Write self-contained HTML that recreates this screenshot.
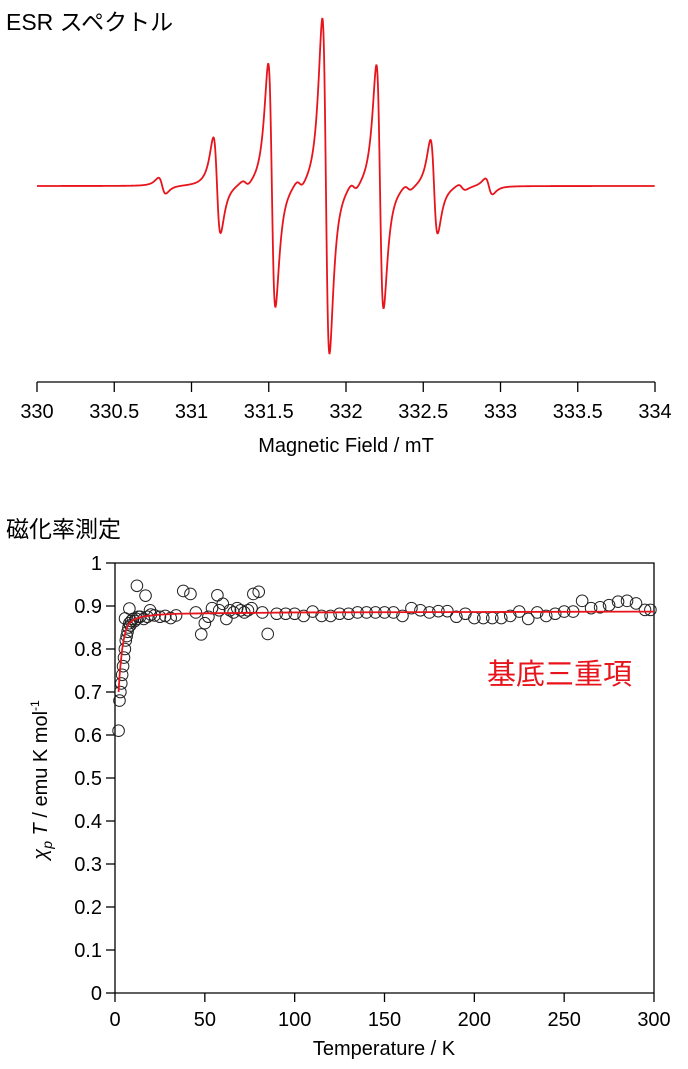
<!DOCTYPE html>
<html><head><meta charset="utf-8">
<style>
html,body{margin:0;padding:0;background:#fff;}
body{width:688px;height:1069px;overflow:hidden;font-family:"Liberation Sans","Noto Sans CJK JP",sans-serif;}
svg{position:absolute;left:0;top:0;}
</style></head>
<body>
<svg id="s" width="688" height="1069" font-family="Liberation Sans, Noto Sans CJK JP, sans-serif">
<text x="6" y="30" font-size="23" fill="#000">ESR スペクトル</text>
<text x="6" y="537" font-size="23" fill="#000">磁化率測定</text>
<g id="esr"></g>
<g id="chi"></g>
</svg>
<script>
// ESR data: line centers (mT), amplitudes (relative peak height, px-scale units)
const esrCenters = [330.81, 331.165, 331.35, 331.52, 331.7, 331.87, 332.05, 332.22, 332.4, 332.57, 332.75, 332.925];
const esrAmps    = [8, 48, 3, 122, 4, 168, 4, 122, 3, 47, 3, 8];
const esrTicks = [330, 330.5, 331, 331.5, 332, 332.5, 333, 333.5, 334];
const esrTickLabels = ["330","330.5","331","331.5","332","332.5","333","333.5","334"];

// Susceptibility data
const chiT = [2,2.5,3,3.5,4,4.5,5,5.5,6,6.5,7,7.5,8,8.5,9,10,11,12,13,14,16,18,20,5.6,8,12.2,17,19.5,22,25,28,31,34,38,42,45,48,50,52,54,57,58,60,62,64,66,68,70,72,74,76,77,80,82,85,90,95,100,105,110,115,120,125,130,135,140,145,150,155,160,165,170,175,180,185,190,195,200,205,210,215,220,225,230,235,240,245,250,255,260,265,270,275,280,285,290,295,298];
const chiV = [0.61,0.68,0.70,0.72,0.74,0.76,0.78,0.80,0.82,0.83,0.84,0.85,0.86,0.855,0.865,0.87,0.865,0.87,0.875,0.875,0.87,0.875,0.88,0.871,0.894,0.947,0.924,0.89,0.878,0.875,0.877,0.872,0.878,0.935,0.928,0.885,0.834,0.86,0.875,0.895,0.925,0.89,0.905,0.87,0.89,0.885,0.895,0.89,0.885,0.89,0.895,0.928,0.933,0.885,0.835,0.882,0.882,0.882,0.877,0.887,0.877,0.877,0.882,0.882,0.885,0.885,0.885,0.885,0.885,0.877,0.895,0.89,0.885,0.888,0.888,0.875,0.882,0.872,0.872,0.872,0.872,0.877,0.887,0.87,0.885,0.877,0.882,0.887,0.887,0.912,0.895,0.897,0.902,0.91,0.912,0.906,0.891,0.891];
const fitT = [2,2.5,3,4,5,6,7,8,10,12,15,20,25,35,50,100,200,300];
const fitV = [0.70,0.735,0.76,0.80,0.825,0.842,0.853,0.86,0.867,0.871,0.875,0.878,0.88,0.882,0.883,0.885,0.886,0.887];
const chiYTicks = [0,0.1,0.2,0.3,0.4,0.5,0.6,0.7,0.8,0.9,1];
const chiYLabels = ["0","0.1","0.2","0.3","0.4","0.5","0.6","0.7","0.8","0.9","1"];
const chiXTicks = [0,50,100,150,200,250,300];
const chiXLabels = ["0","50","100","150","200","250","300"];

const NS='http://www.w3.org/2000/svg';
function mk(tag, attrs, parent){const e=document.createElementNS(NS,tag);for(const k in attrs)e.setAttribute(k,attrs[k]);parent.appendChild(e);return e;}

// ---- ESR ----
const esr=document.getElementById('esr');
const ex=b=>37+(b-330)/4*618;
const base=186, G=0.04;
function esrSignal(b){let s=0;for(let i=0;i<esrCenters.length;i++){const u=(b-esrCenters[i])/G;s+=esrAmps[i]*(-u/Math.pow(1+u*u,2))/0.325;}return s;}
let d='';
for(let b=330.0;b<=334.0;b+=0.002){d+=(d?'L':'M')+ex(b).toFixed(2)+','+(base-esrSignal(b)).toFixed(2);}
const sp=mk('path',{d:d,fill:'none',stroke:'#e8141c','stroke-width':1.8},esr);


const eax=mk('line',{x1:37,x2:655,y1:382,y2:382,stroke:'#000','stroke-width':1.3},esr);


esrTicks.forEach((t,i)=>{
  const x=ex(t);
  const tk=mk('line',{x1:x,x2:x,y1:382,y2:392,stroke:'#000','stroke-width':1.3},esr);
  
  
  const tl=mk('text',{x:x,y:418,'font-size':20,'text-anchor':'middle',fill:'#000'},esr);
  tl.textContent=esrTickLabels[i];
  
  
});
const et=mk('text',{x:346,y:452,'font-size':20,'text-anchor':'middle',fill:'#000'},esr);
et.textContent='Magnetic Field / mT';



// ---- Chi ----
const chi=document.getElementById('chi');
const X0=115,X1=654,Y0=993,Y1=563;
const cx=t=>X0+t/300*(X1-X0);
const cy=v=>Y0-v*(Y0-Y1);
const frame=mk('path',{d:`M${X0},${Y1}H${X1}V${Y0}`,fill:'none',stroke:'#000','stroke-width':1.3},chi);


const yax=mk('line',{x1:X0,x2:X0,y1:Y1,y2:Y0,stroke:'#000','stroke-width':1.3},chi);


const xax=mk('line',{x1:X0,x2:X1,y1:Y0,y2:Y0,stroke:'#000','stroke-width':1.3},chi);


chiYTicks.forEach((v,i)=>{
  const y=cy(v);
  const tk=mk('line',{x1:X0-9,x2:X0,y1:y,y2:y,stroke:'#000','stroke-width':1.3},chi);
  
  
  const tl=mk('text',{x:102,y:y+7,'font-size':20,'text-anchor':'end',fill:'#000'},chi);
  tl.textContent=chiYLabels[i];
  
  
});
chiXTicks.forEach((t,i)=>{
  const x=cx(t);
  const tk=mk('line',{x1:x,x2:x,y1:Y0,y2:Y0+9,stroke:'#000','stroke-width':1.3},chi);
  
  
  const tl=mk('text',{x:x,y:1026,'font-size':20,'text-anchor':'middle',fill:'#000'},chi);
  tl.textContent=chiXLabels[i];
  
  
});
const xt=mk('text',{x:384,y:1055,'font-size':20,'text-anchor':'middle',fill:'#000'},chi);
xt.textContent='Temperature / K';


const yt=mk('text',{transform:'translate(47,780) rotate(-90)','font-size':20,'text-anchor':'middle',fill:'#000'},chi);
yt.innerHTML='<tspan font-style="italic">χ</tspan><tspan font-style="italic" font-size="14" dy="5">p</tspan><tspan font-style="italic" dy="-5"> T</tspan><tspan> / emu K mol</tspan><tspan font-size="12" dy="-8">-1</tspan>';


chiT.forEach((t,i)=>{
  const c=mk('circle',{cx:cx(t),cy:cy(chiV[i]),r:5.8,fill:'none',stroke:'#222','stroke-width':1},chi);
  
  
});
let fd='';
fitT.forEach((t,i)=>{fd+=(i?'L':'M')+cx(t).toFixed(2)+','+cy(fitV[i]).toFixed(2);});
const fit=mk('path',{d:fd,fill:'none',stroke:'#e8141c','stroke-width':1.8},chi);


const lab=mk('text',{x:487,y:684,'font-size':29,fill:'#e8141c'},chi);
lab.textContent='基底三重項';


</script>
</body></html>
